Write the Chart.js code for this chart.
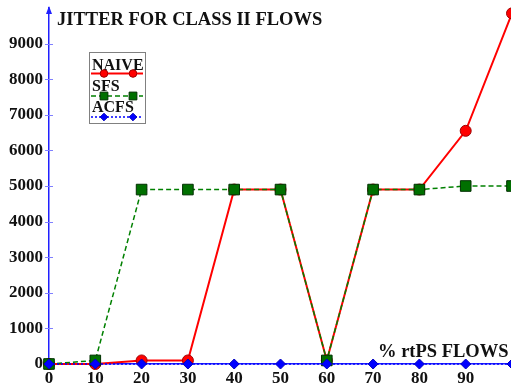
<!DOCTYPE html>
<html>
<head>
<meta charset="utf-8">
<script src="https://cdn.jsdelivr.net/npm/chart.js@4"></script>
<style>
  html, body { margin: 0; padding: 0; background: #fff; overflow: hidden; }
</style>
</head>
<body>
<canvas id="jitter" width="512" height="385"></canvas>
<script>
// data
const rtpsPercent = [0, 10, 20, 30, 40, 50, 60, 70, 80, 90, 100];
const naiveJitter = [0, 0, 100, 100, 4900, 4900, 100, 4900, 4900, 6550, 9850];
const sfsJitter = [0, 100, 4900, 4900, 4900, 4900, 100, 4900, 4900, 5000, 5000];
const acfsJitter = [0, 0, 0, 0, 0, 0, 0, 0, 0, 0, 0];
const yTicks = [0, 1000, 2000, 3000, 4000, 5000, 6000, 7000, 8000, 9000];
const xTicks = [0, 10, 20, 30, 40, 50, 60, 70, 80, 90];

const serif = '"Liberation Serif", "Times New Roman", serif';
const axisBlue = '#2020ff';

const seriesStyle = [
  { label: 'NAIVE', color: '#ff0000', dash: [], point: 'circle', fill: '#ff0000', edge: '#a00000' },
  { label: 'SFS', color: '#008000', dash: [5, 3], point: 'rect', fill: '#007000', edge: '#003000' },
  { label: 'ACFS', color: '#0000ff', dash: [2, 2], point: 'rectRot', fill: '#0000ff', edge: '#0000c0' }
];

// legend, title, axis arrow and little tick marks
const decorations = {
  id: 'decorations',
  afterDraw(chart) {
    const ctx = chart.ctx;
    const xs = chart.scales.x, ys = chart.scales.y;
    const ax = xs.getPixelForValue(0);
    ctx.save();

    // y ticks crossing the axis
    ctx.strokeStyle = '#8080ff';
    ctx.lineWidth = 1;
    yTicks.forEach(v => {
      if (v === 0) return;
      const y = Math.round(ys.getPixelForValue(v)) + 0.5;
      ctx.beginPath();
      ctx.moveTo(ax - 4, y);
      ctx.lineTo(ax + 4, y);
      ctx.stroke();
    });

    // arrow on top of y axis
    const top = chart.chartArea.top;
    ctx.fillStyle = axisBlue;
    ctx.beginPath();
    ctx.moveTo(ax, top - 2);
    ctx.lineTo(ax - 3, top + 6);
    ctx.lineTo(ax + 3, top + 6);
    ctx.closePath();
    ctx.fill();

    // titles
    ctx.fillStyle = '#111';
    ctx.font = 'bold 18.5px ' + serif;
    ctx.textBaseline = 'alphabetic';
    ctx.textAlign = 'left';
    ctx.fillText('JITTER FOR CLASS II FLOWS', 57, 25);
    ctx.fillText('% rtPS FLOWS', 378, 357);

    // legend box
    const lx = 89, ly = 52, lw = 56, lh = 71;
    ctx.fillStyle = '#fff';
    ctx.fillRect(lx, ly, lw, lh);
    ctx.strokeStyle = '#808080';
    ctx.lineWidth = 1;
    ctx.strokeRect(lx + 0.5, ly + 0.5, lw, lh);

    ctx.font = 'bold 16px ' + serif;
    ctx.textAlign = 'left';
    const baselines = [70, 91, 112];
    const lineYs = [73.5, 96, 117];
    seriesStyle.forEach((s, i) => {
      const lineY = lineYs[i];
      ctx.fillStyle = '#111';
      ctx.fillText(s.label, lx + 3, baselines[i]);
      ctx.strokeStyle = s.color;
      ctx.lineWidth = i === 0 ? 2 : 1.5;
      ctx.setLineDash(s.dash);
      ctx.beginPath();
      ctx.moveTo(lx + 2, lineY);
      ctx.lineTo(lx + lw - 2, lineY);
      ctx.stroke();
      ctx.setLineDash([]);
      [lx + 15, lx + 44].forEach(px => {
        ctx.fillStyle = s.fill;
        ctx.strokeStyle = s.edge;
        ctx.lineWidth = 1;
        Chart.helpers.drawPoint(ctx, {
          pointStyle: s.point,
          radius: s.point === 'rect' ? 5.5 : 3.8,
          rotation: 0,
          borderWidth: 1
        }, px, lineY);
      });
    });

    ctx.restore();
  }
};

function makeSet(values, s, order, width, radius) {
  return {
    label: s.label,
    data: values.map((v, i) => ({ x: rtpsPercent[i], y: v })),
    order: order,
    borderColor: s.color,
    borderWidth: width,
    borderDash: s.dash,
    pointStyle: s.point,
    pointRadius: radius,
    pointBackgroundColor: s.fill,
    pointBorderColor: s.edge,
    pointBorderWidth: 1,
    tension: 0,
    clip: false
  };
}

new Chart(document.getElementById('jitter'), {
  type: 'line',
  data: {
    datasets: [
      makeSet(naiveJitter, seriesStyle[0], 3, 2, 5.5),
      makeSet(sfsJitter, seriesStyle[1], 2, 1.5, 7.5),
      makeSet(acfsJitter, seriesStyle[2], 1, 1.5, 5)
    ]
  },
  options: {
    responsive: false,
    animation: false,
    layout: { autoPadding: false, padding: { top: 8, right: 0, left: 0, bottom: 0 } },
    plugins: {
      legend: { display: false },
      title: { display: false },
      tooltip: { enabled: false }
    },
    scales: {
      x: {
        type: 'linear',
        min: 0,
        max: 100,
        afterFit(scale) {
          scale.height = 21;
          scale.paddingLeft = 0;
          scale.paddingRight = 0;
        },
        afterBuildTicks(scale) { scale.ticks = rtpsPercent.map(v => ({ value: v })); },
        grid: { display: false, drawTicks: false },
        border: { display: true, color: axisBlue, width: 1.5 },
        ticks: {
          padding: 4,
          maxRotation: 0,
          autoSkip: false,
          color: '#111',
          font: { family: serif, size: 17, weight: 'bold' },
          callback: v => (xTicks.includes(v) ? String(v) : '')
        }
      },
      y: {
        min: 0,
        max: 10000,
        afterFit(scale) {
          scale.width = 49;
          scale.paddingTop = 0;
          scale.paddingBottom = 0;
        },
        afterBuildTicks(scale) { scale.ticks = yTicks.map(v => ({ value: v })); },
        grid: { display: false, drawTicks: false },
        border: { display: true, color: axisBlue, width: 1.5 },
        ticks: {
          padding: 6,
          autoSkip: false,
          color: '#111',
          font: { family: serif, size: 17, weight: 'bold' },
          callback: v => String(v)
        }
      }
    }
  },
  plugins: [decorations]
});
</script>
</body>
</html>
